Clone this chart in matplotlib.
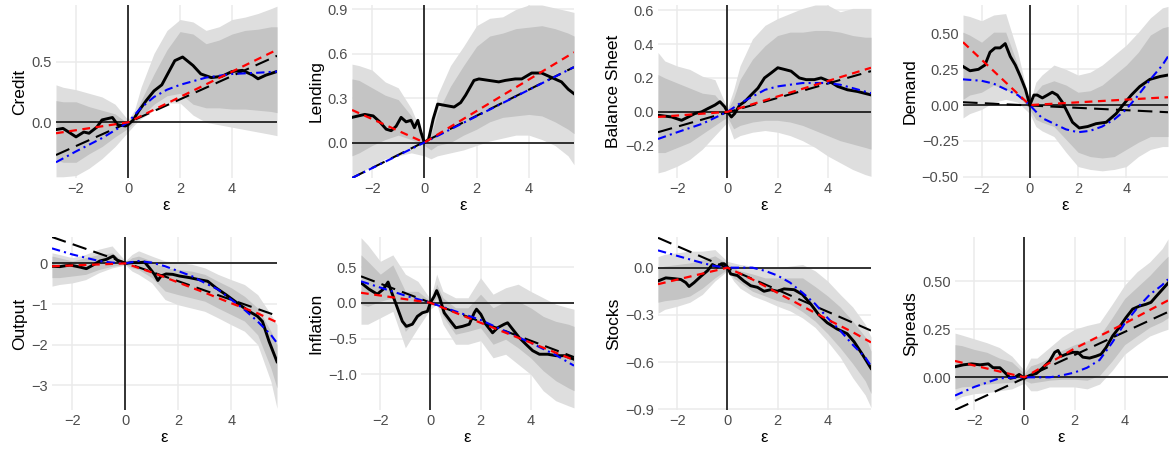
import numpy as np
import matplotlib
matplotlib.use('Agg')
import matplotlib.pyplot as plt

plt.rcParams['font.family'] = ['Liberation Sans', 'DejaVu Sans']

# shared grid for the confidence bands
band_x = [-2.77, -2.5, -2, -1.5, -1, -0.5, 0, 0.25, 0.5, 1, 1.5, 2, 2.5, 3, 3.5, 4, 4.5, 5, 5.5, 5.73]

# ---- Credit
credit_x = [-2.77, -2.5, -2, -1.7, -1.5, -1.2, -1, -0.6, -0.4, -0.1, 0, 0.2, 0.4, 0.7, 1.0, 1.3, 1.5, 1.8,
            2.1, 2.5, 2.8, 3.2, 3.6, 4.0, 4.4, 4.8, 5.0, 5.3, 5.73]
credit_est = [-0.06, -0.05, -0.12, -0.08, -0.09, -0.04, 0.02, 0.04, -0.02, -0.03, -0.02, 0.02, 0.09, 0.18,
              0.26, 0.31, 0.39, 0.51, 0.54, 0.47, 0.40, 0.37, 0.38, 0.42, 0.43, 0.39, 0.36, 0.39, 0.42]
credit_ou = [0.31, 0.29, 0.27, 0.24, 0.21, 0.15, 0.02, 0.10, 0.29, 0.57, 0.76, 0.85, 0.83, 0.76, 0.79, 0.85, 0.87, 0.90, 0.94, 0.96]
credit_iu = [0.18, 0.17, 0.17, 0.13, 0.10, 0.07, -0.01, 0.06, 0.18, 0.40, 0.60, 0.75, 0.73, 0.65, 0.68, 0.73, 0.76, 0.77, 0.79, 0.79]
credit_il = [-0.31, -0.33, -0.33, -0.26, -0.20, -0.12, -0.05, 0.0, 0.05, 0.15, 0.22, 0.24, 0.15, 0.12, 0.12, 0.11, 0.11, 0.10, 0.09, 0.08]
credit_ol = [-0.45, -0.45, -0.44, -0.38, -0.30, -0.20, -0.08, -0.02, 0.03, 0.10, 0.16, 0.16, 0.06, 0.0, -0.02, -0.04, -0.06, -0.08, -0.10, -0.11]
credit_red_x = [-2.77, 0, 5.73]
credit_red = [-0.09, 0, 0.60]
credit_blue_x = [-2.77, -2, -1, 0, 0.5, 1, 1.5, 2, 3, 4, 5, 5.73]
credit_blue = [-0.33, -0.24, -0.13, 0, 0.12, 0.21, 0.27, 0.31, 0.37, 0.40, 0.41, 0.42]
credit_dash_x = [-2.77, 5.73]
credit_dash = [-0.27, 0.55]

# ---- Lending
lending_x = [-2.77, -2.28, -1.96, -1.71, -1.46, -1.27, -1.08, -0.89, -0.70, -0.51, -0.38, -0.25, -0.13, 0,
             0.16, 0.34, 0.51, 0.82, 1.14, 1.39, 1.58, 1.90, 2.09, 2.47, 2.85, 3.10, 3.48, 3.73, 4.11, 4.49,
             4.87, 5.25, 5.51, 5.73]
lending_est = [0.17, 0.19, 0.18, 0.14, 0.09, 0.08, 0.11, 0.17, 0.14, 0.15, 0.10, 0.15, 0.07, 0.0,
               0.02, 0.16, 0.26, 0.25, 0.24, 0.27, 0.32, 0.42, 0.43, 0.42, 0.41, 0.42, 0.43, 0.43, 0.47, 0.47,
               0.44, 0.41, 0.36, 0.33]
lending_ou = [0.53, 0.52, 0.49, 0.41, 0.37, 0.23, 0.02, 0.07, 0.32, 0.52, 0.65, 0.79, 0.84, 0.85, 0.90, 0.93, 0.93, 0.91, 0.89, 0.88]
lending_iu = [0.43, 0.42, 0.37, 0.32, 0.29, 0.18, 0.01, 0.05, 0.20, 0.38, 0.52, 0.65, 0.72, 0.74, 0.77, 0.78, 0.79, 0.77, 0.74, 0.72]
lending_il = [-0.09, -0.07, -0.02, 0.02, 0.05, 0.02, -0.02, -0.05, -0.02, 0.0, 0.05, 0.09, 0.14, 0.17, 0.18, 0.19, 0.18, 0.14, 0.09, 0.06]
lending_ol = [-0.23, -0.21, -0.16, -0.11, -0.09, -0.07, -0.09, -0.11, -0.09, -0.07, -0.05, -0.02, 0.01, 0.03, 0.05, 0.05, 0.02, -0.02, -0.09, -0.15]
lending_red_x = [-2.77, 0, 5.73]
lending_red = [0.22, 0, 0.61]
lending_blue_x = [-2.77, 0, 5.73]
lending_blue = [-0.24, 0, 0.51]
lending_dash_x = [-2.77, 5.73]
lending_dash = [-0.24, 0.51]

# ---- Balance Sheet
bs_x = [-2.77, -2.23, -1.83, -1.56, -1.30, -1.03, -0.77, -0.50, -0.30, -0.11, 0, 0.16, 0.29, 0.49, 0.69, 0.95,
        1.22, 1.48, 1.75, 2.01, 2.28, 2.54, 2.87, 3.14, 3.47, 3.74, 4.07, 4.40, 4.79, 5.19, 5.73]
bs_est = [-0.02, -0.03, -0.05, -0.03, -0.01, 0.0, 0.02, 0.04, 0.06, 0.03, 0.0, -0.03, -0.01, 0.04, 0.06, 0.10,
          0.14, 0.20, 0.23, 0.26, 0.25, 0.24, 0.20, 0.19, 0.19, 0.20, 0.18, 0.15, 0.13, 0.12, 0.10]
bs_ou = [0.35, 0.30, 0.27, 0.25, 0.21, 0.19, 0.02, 0.13, 0.27, 0.43, 0.51, 0.55, 0.58, 0.61, 0.63, 0.63, 0.59, 0.61, 0.61, 0.61]
bs_iu = [0.22, 0.20, 0.17, 0.14, 0.11, 0.10, 0.01, 0.08, 0.19, 0.31, 0.39, 0.45, 0.47, 0.47, 0.48, 0.48, 0.47, 0.45, 0.44, 0.44]
bs_il = [-0.24, -0.24, -0.21, -0.18, -0.13, -0.08, -0.03, -0.10, -0.08, -0.06, -0.05, -0.05, -0.06, -0.08, -0.11, -0.14, -0.17, -0.19, -0.21, -0.22]
bs_ol = [-0.36, -0.35, -0.32, -0.28, -0.22, -0.14, -0.06, -0.16, -0.14, -0.12, -0.11, -0.12, -0.14, -0.17, -0.21, -0.26, -0.30, -0.34, -0.37, -0.38]
bs_red_x = [-2.77, 0, 5.73]
bs_red = [-0.03, 0, 0.26]
bs_blue_x = [-2.77, -2, -1, 0, 0.5, 1, 1.5, 2, 3, 4, 4.5, 5, 5.73]
bs_blue = [-0.16, -0.12, -0.07, 0, 0.05, 0.09, 0.13, 0.15, 0.17, 0.17, 0.16, 0.14, 0.11]
bs_dash_x = [-2.77, 5.73]
bs_dash = [-0.12, 0.24]

# ---- Demand
demand_x = [-2.77, -2.48, -2.13, -1.86, -1.65, -1.44, -1.23, -1.02, -0.81, -0.60, -0.39, -0.18, 0, 0.17, 0.31,
            0.52, 0.73, 0.93, 1.14, 1.35, 1.56, 1.77, 2.05, 2.40, 2.75, 3.17, 3.58, 3.86, 4.21, 4.56, 4.98, 5.40, 5.73]
demand_est = [0.27, 0.24, 0.25, 0.28, 0.37, 0.40, 0.40, 0.43, 0.34, 0.28, 0.20, 0.11, 0.0, 0.07, 0.07,
              0.05, 0.07, 0.09, 0.07, 0.02, -0.05, -0.12, -0.16, -0.15, -0.13, -0.12, -0.06, 0.0, 0.07, 0.13, 0.18, 0.20, 0.21]
demand_ou = [0.63, 0.62, 0.59, 0.63, 0.64, 0.37, 0.01, 0.16, 0.21, 0.28, 0.25, 0.21, 0.23, 0.28, 0.35, 0.42, 0.51, 0.61, 0.68, 0.69]
demand_iu = [0.51, 0.49, 0.44, 0.51, 0.51, 0.28, 0.0, 0.09, 0.14, 0.17, 0.14, 0.09, 0.10, 0.14, 0.21, 0.28, 0.37, 0.49, 0.54, 0.55]
demand_il = [0.04, 0.07, 0.09, 0.14, 0.11, 0.07, -0.03, -0.10, -0.12, -0.15, -0.24, -0.33, -0.36, -0.37, -0.36, -0.31, -0.26, -0.22, -0.22, -0.22]
demand_ol = [-0.09, -0.06, -0.03, 0.02, 0.04, 0.02, -0.06, -0.15, -0.18, -0.22, -0.33, -0.43, -0.45, -0.46, -0.45, -0.43, -0.36, -0.31, -0.29, -0.29]
demand_red_x = [-2.77, 0, 5.73]
demand_red = [0.44, 0, 0.055]
demand_blue_x = [-2.77, -2, -1.5, -1, -0.5, 0, 0.5, 1, 1.5, 2, 2.5, 3, 3.5, 4, 4.5, 5, 5.5, 5.73]
demand_blue = [0.18, 0.17, 0.15, 0.11, 0.07, 0, -0.09, -0.13, -0.17, -0.19, -0.18, -0.15, -0.10, -0.03, 0.07, 0.18, 0.28, 0.34]
demand_dash_x = [-2.77, 5.73]
demand_dash = [0.02, -0.05]

# ---- Output
output_x = [-2.77, -2.47, -2.09, -1.72, -1.47, -1.22, -0.96, -0.71, -0.46, -0.28, 0, 0.29, 0.54, 0.73, 0.91, 1.10,
            1.23, 1.35, 1.54, 1.79, 2.04, 2.42, 2.79, 3.11, 3.42, 3.80, 4.05, 4.30, 4.67, 4.99, 5.18, 5.43, 5.73]
output_est = [-0.07, -0.08, -0.04, -0.09, -0.13, -0.04, 0.06, 0.10, 0.18, 0.06, 0.0, 0.02, 0.02, 0.03, -0.11, -0.27,
              -0.42, -0.31, -0.26, -0.27, -0.31, -0.35, -0.40, -0.44, -0.60, -0.77, -0.89, -1.01, -1.18, -1.30, -1.43, -1.92, -2.42]
output_ou = [0.26, 0.22, 0.14, 0.22, 0.35, 0.43, 0.06, 0.22, 0.31, 0.18, 0.06, 0.02, -0.02, -0.11, -0.27, -0.40, -0.52, -0.77, -1.26, -1.51]
output_iu = [0.18, 0.14, 0.06, 0.14, 0.22, 0.26, 0.02, 0.14, 0.18, 0.06, -0.11, -0.15, -0.19, -0.27, -0.44, -0.60, -0.81, -1.10, -1.67, -2.0]
output_il = [-0.35, -0.35, -0.31, -0.27, -0.15, -0.07, -0.02, -0.11, -0.15, -0.35, -0.68, -0.77, -0.85, -0.93, -1.10, -1.26, -1.42, -1.76, -2.58, -3.07]
output_ol = [-0.56, -0.52, -0.48, -0.40, -0.23, -0.11, -0.04, -0.19, -0.27, -0.48, -0.89, -1.02, -1.10, -1.18, -1.34, -1.51, -1.67, -2.0, -2.91, -3.57]
output_red_x = [-2.77, 0, 1, 2, 3, 4, 5, 5.73]
output_red = [-0.07, 0, -0.22, -0.47, -0.72, -0.98, -1.23, -1.45]
output_blue_x = [-2.77, -2, -1, -0.5, 0, 0.5, 1, 1.5, 2, 2.5, 3, 3.5, 4, 4.5, 5, 5.5, 5.73]
output_blue = [0.37, 0.22, 0.06, 0.02, 0, 0.06, 0.02, -0.07, -0.19, -0.31, -0.48, -0.64, -0.89, -1.14, -1.43, -1.76, -1.96]
output_dash_x = [-2.77, 5.6]
output_dash = [0.65, -1.26]

# ---- Inflation
infl_x = [-2.77, -2.45, -2.12, -1.88, -1.69, -1.52, -1.32, -1.12, -0.96, -0.72, -0.52, -0.32, -0.12, 0, 0.15, 0.25,
          0.37, 0.55, 0.81, 1.01, 1.28, 1.55, 1.75, 1.84, 2.01, 2.21, 2.48, 2.68, 2.95, 3.08, 3.28, 3.55, 3.81,
          4.08, 4.35, 4.68, 5.01, 5.35, 5.73]
infl_est = [0.28, 0.19, 0.12, 0.19, 0.29, 0.12, -0.07, -0.26, -0.33, -0.30, -0.19, -0.14, -0.12, 0.0, 0.09, 0.17,
            0.07, -0.14, -0.26, -0.35, -0.33, -0.30, -0.14, -0.09, -0.16, -0.30, -0.42, -0.35, -0.30, -0.28, -0.37, -0.49, -0.58,
            -0.67, -0.72, -0.72, -0.74, -0.74, -0.79]
infl_ou = [0.91, 0.81, 0.58, 0.67, 0.40, 0.30, 0.05, 0.40, 0.16, 0.07, 0.07, 0.35, 0.12, 0.21, 0.26, 0.16, 0.07, -0.02, -0.07, -0.09]
infl_iu = [0.67, 0.58, 0.40, 0.53, 0.16, 0.16, 0.02, 0.26, 0.07, -0.07, -0.07, 0.12, -0.07, 0.02, 0.02, -0.07, -0.19, -0.26, -0.30, -0.33]
infl_il = [-0.02, -0.05, 0.02, 0.07, -0.40, -0.21, -0.05, 0.07, -0.19, -0.44, -0.40, -0.35, -0.58, -0.51, -0.63, -0.77, -0.95, -1.09, -1.19, -1.23]
infl_ol = [-0.30, -0.30, -0.21, -0.12, -0.63, -0.35, -0.09, -0.02, -0.30, -0.58, -0.58, -0.53, -0.77, -0.72, -0.86, -1.00, -1.23, -1.37, -1.44, -1.47]
infl_red_x = [-2.77, 0, 5.73]
infl_red = [0.14, 0, -0.80]
infl_blue_x = [-2.77, -1, 0, 1, 2, 3, 4, 5, 5.73]
infl_blue = [0.30, 0.10, 0, -0.12, -0.24, -0.40, -0.56, -0.73, -0.88]
infl_dash_x = [-2.77, 5.73]
infl_dash = [0.37, -0.76]

# ---- Stocks
stocks_x = [-2.77, -2.46, -2.12, -1.86, -1.66, -1.53, -1.33, -1.06, -0.80, -0.60, -0.40, -0.24, -0.13, 0, 0.13, 0.40,
            0.66, 0.93, 1.20, 1.46, 1.73, 1.99, 2.26, 2.66, 2.99, 3.32, 3.65, 3.98, 4.38, 4.78, 5.05, 5.38, 5.73]
stocks_est = [-0.085, -0.065, -0.07, -0.075, -0.095, -0.12, -0.095, -0.055, -0.02, 0.02, 0.004, 0.025, 0.025, 0.004, -0.04, -0.05,
              -0.085, -0.115, -0.125, -0.15, -0.14, -0.15, -0.135, -0.14, -0.17, -0.23, -0.30, -0.35, -0.39, -0.42, -0.47, -0.55, -0.64]
stocks_ou = [0.07, 0.085, 0.095, 0.105, 0.105, 0.115, 0.04, 0.03, 0.02, 0.01, 0.0, 0.0, 0.01, 0.02, -0.02, -0.085, -0.17, -0.25, -0.36, -0.44]
stocks_iu = [0.0, 0.01, 0.02, 0.03, 0.05, 0.075, 0.025, 0.0, -0.02, -0.04, -0.065, -0.065, -0.065, -0.065, -0.12, -0.18, -0.25, -0.34, -0.44, -0.53]
stocks_il = [-0.22, -0.21, -0.20, -0.18, -0.13, -0.065, -0.01, -0.065, -0.095, -0.15, -0.18, -0.21, -0.23, -0.28, -0.34, -0.42, -0.51, -0.61, -0.72, -0.80]
stocks_ol = [-0.29, -0.265, -0.245, -0.22, -0.17, -0.085, -0.02, -0.085, -0.13, -0.18, -0.21, -0.245, -0.275, -0.32, -0.38, -0.47, -0.57, -0.70, -0.81, -0.89]
stocks_red_x = [-2.77, 0, 1, 2, 3, 4, 5, 5.73]
stocks_red = [-0.105, 0, -0.075, -0.16, -0.245, -0.33, -0.41, -0.475]
stocks_blue_x = [-2.77, -2, -1, -0.5, 0, 1, 1.5, 2, 2.5, 3, 3.5, 4, 4.5, 5, 5.5, 5.73]
stocks_blue = [0.11, 0.075, 0.03, 0.01, 0, 0, -0.02, -0.05, -0.095, -0.16, -0.23, -0.32, -0.40, -0.49, -0.57, -0.625]
stocks_dash_x = [-2.77, 5.73]
stocks_dash = [0.19, -0.40]

# ---- Spreads
spreads_x = [-2.77, -2.44, -2.11, -1.77, -1.44, -1.25, -0.98, -0.78, -0.56, -0.38, -0.21, 0, 0.21, 0.48, 0.74, 1.01,
             1.21, 1.34, 1.47, 1.67, 1.93, 2.13, 2.33, 2.60, 2.86, 3.06, 3.26, 3.52, 3.79, 4.05, 4.32, 4.58, 4.85,
             5.05, 5.25, 5.73]
spreads_est = [0.055, 0.065, 0.07, 0.065, 0.07, 0.05, 0.05, 0.025, -0.005, 0.0, 0.015, -0.005, 0.01, 0.02, 0.05, 0.085,
               0.13, 0.14, 0.11, 0.12, 0.13, 0.13, 0.105, 0.10, 0.11, 0.12, 0.155, 0.215, 0.26, 0.31, 0.355, 0.37, 0.38,
               0.39, 0.42, 0.49]
spreads_ou = [0.23, 0.22, 0.20, 0.18, 0.155, 0.11, 0.035, 0.10, 0.10, 0.155, 0.21, 0.25, 0.27, 0.285, 0.38, 0.48, 0.55, 0.60, 0.67, 0.72]
spreads_iu = [0.17, 0.165, 0.145, 0.13, 0.10, 0.08, 0.02, 0.06, 0.07, 0.10, 0.14, 0.17, 0.19, 0.215, 0.31, 0.41, 0.47, 0.53, 0.60, 0.63]
spreads_il = [-0.06, -0.05, -0.045, -0.035, -0.03, -0.025, -0.015, -0.03, -0.025, -0.015, -0.01, -0.01, -0.015, 0.01, 0.085, 0.17, 0.215, 0.26, 0.29, 0.31]
spreads_ol = [-0.12, -0.10, -0.085, -0.08, -0.07, -0.06, -0.03, -0.07, -0.07, -0.05, -0.05, -0.05, -0.06, -0.035, 0.035, 0.12, 0.17, 0.215, 0.24, 0.25]
spreads_red_x = [-2.77, 0, 1, 2, 3, 4, 5, 5.73]
spreads_red = [0.085, 0, 0.075, 0.15, 0.215, 0.28, 0.35, 0.40]
spreads_blue_x = [-2.77, -2, -1, 0, 0.5, 1, 1.5, 2, 2.5, 3, 3.5, 4, 4.5, 5, 5.5, 5.73]
spreads_blue = [-0.095, -0.05, -0.005, 0, 0, 0, 0.01, 0.025, 0.05, 0.09, 0.18, 0.28, 0.36, 0.43, 0.48, 0.51]
spreads_dash_x = [-2.77, 5.73]
spreads_dash = [-0.17, 0.34]

W, H = 1171, 450
fig = plt.figure(figsize=(W / 100, H / 100), dpi=100)
fig.patch.set_facecolor('white')


def panel(box, name, ylim, yticks, ylabels, est_x, est, ou, iu, il, ol,
          rx, ry, bx, by, dx, dy):
    l, r, t, b = box
    ax = fig.add_axes([l / W, 1 - b / H, (r - l) / W, (b - t) / H])
    ax.fill_between(band_x, ol, ou, color='#DEDEDE', lw=0)
    ax.fill_between(band_x, il, iu, color='#C4C4C4', lw=0)
    ax.axhline(0, color='black', lw=1.1, zorder=2)
    ax.axvline(0, color='black', lw=1.1, zorder=2)
    ax.plot(est_x, est, color='black', lw=2.1, zorder=3, solid_joinstyle='round')
    ax.plot(dx, dy, color='black', lw=1.5, dashes=(7, 3.5), zorder=4)
    ax.plot(bx, by, color='#0000FF', lw=1.5, dashes=(4, 2, 1, 2), zorder=5)
    ax.plot(rx, ry, color='#FF0000', lw=1.6, dashes=(3.5, 2.5), zorder=6)
    ax.set_xlim(-2.77, 5.73)
    ax.set_ylim(*ylim)
    ax.set_xticks([-2, 0, 2, 4])
    ax.set_xticklabels(['\u22122', '0', '2', '4'])
    ax.set_yticks(yticks)
    ax.set_yticklabels(ylabels)
    ax.grid(True, color='#EBEBEB', lw=1.1)
    ax.set_axisbelow(True)
    for s in ax.spines.values():
        s.set_visible(False)
    ax.tick_params(length=0, labelsize=10.5, colors='#4D4D4D', pad=3)
    ax.set_xlabel('\u03b5', fontsize=12, labelpad=1)
    ax.set_ylabel(name, fontsize=12.5, labelpad=3)
    return ax


panel((56, 277, 5, 178), 'Credit', (-0.46, 0.97), [0, 0.5], ['0.0', '0.5'],
      credit_x, credit_est, credit_ou, credit_iu, credit_il, credit_ol,
      credit_red_x, credit_red, credit_blue_x, credit_blue, credit_dash_x, credit_dash)
panel((352, 574, 5, 178), 'Lending', (-0.24, 0.93), [0, 0.3, 0.6, 0.9], ['0.0', '0.3', '0.6', '0.9'],
      lending_x, lending_est, lending_ou, lending_iu, lending_il, lending_ol,
      lending_red_x, lending_red, lending_blue_x, lending_blue, lending_dash_x, lending_dash)
panel((658, 871, 5, 178), 'Balance Sheet', (-0.39, 0.63), [-0.2, 0, 0.2, 0.4, 0.6],
      ['\u22120.2', '0.0', '0.2', '0.4', '0.6'],
      bs_x, bs_est, bs_ou, bs_iu, bs_il, bs_ol,
      bs_red_x, bs_red, bs_blue_x, bs_blue, bs_dash_x, bs_dash)
panel((963, 1168, 5, 178), 'Demand', (-0.51, 0.70), [-0.5, -0.25, 0, 0.25, 0.5],
      ['\u22120.50', '\u22120.25', '0.00', '0.25', '0.50'],
      demand_x, demand_est, demand_ou, demand_iu, demand_il, demand_ol,
      demand_red_x, demand_red, demand_blue_x, demand_blue, demand_dash_x, demand_dash)
panel((52, 277, 237, 410), 'Output', (-3.61, 0.65), [-3, -2, -1, 0],
      ['\u22123', '\u22122', '\u22121', '0'],
      output_x, output_est, output_ou, output_iu, output_il, output_ol,
      output_red_x, output_red, output_blue_x, output_blue, output_dash_x, output_dash)
panel((361, 574, 237, 410), 'Inflation', (-1.50, 0.92), [-1.0, -0.5, 0, 0.5],
      ['\u22121.0', '\u22120.5', '0.0', '0.5'],
      infl_x, infl_est, infl_ou, infl_iu, infl_il, infl_ol,
      infl_red_x, infl_red, infl_blue_x, infl_blue, infl_dash_x, infl_dash)
panel((658, 871, 237, 410), 'Stocks', (-0.905, 0.195), [-0.9, -0.6, -0.3, 0],
      ['\u22120.9', '\u22120.6', '\u22120.3', '0.0'],
      stocks_x, stocks_est, stocks_ou, stocks_iu, stocks_il, stocks_ol,
      stocks_red_x, stocks_red, stocks_blue_x, stocks_blue, stocks_dash_x, stocks_dash)
panel((955, 1168, 237, 410), 'Spreads', (-0.17, 0.73), [0, 0.25, 0.5],
      ['0.00', '0.25', '0.50'],
      spreads_x, spreads_est, spreads_ou, spreads_iu, spreads_il, spreads_ol,
      spreads_red_x, spreads_red, spreads_blue_x, spreads_blue, spreads_dash_x, spreads_dash)

fig.savefig('out.png', dpi=100)
